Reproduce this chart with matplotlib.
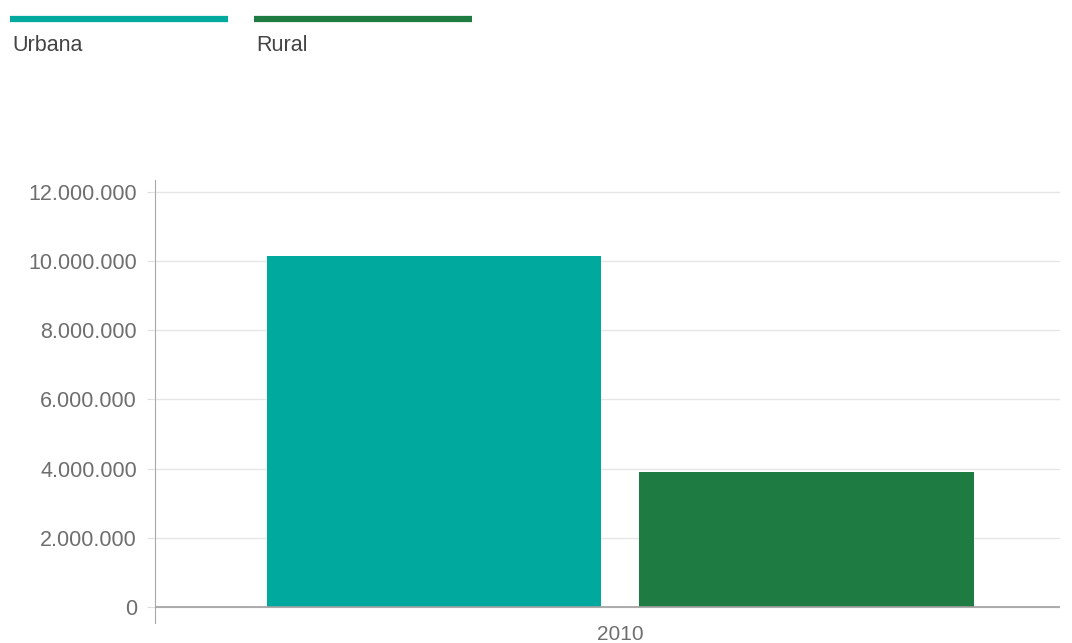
import matplotlib.pyplot as plt
from matplotlib.lines import Line2D
from matplotlib.ticker import FuncFormatter

plt.rcParams['font.family'] = ['Liberation Sans', 'DejaVu Sans']

categories = ['2010']
series = ['Urbana', 'Rural']
values = [10150000, 3910000]
colors = ['#00a99e', '#1e7b41']
yticks = [0, 2000000, 4000000, 6000000, 8000000, 10000000, 12000000]

fig = plt.figure(figsize=(10.72, 6.43), dpi=100)
ax = fig.add_axes([0.1446, 0.0311, 0.844, 0.689])

bar_w = 0.37
offsets = [-0.206, 0.206]
for name, val, col, off in zip(series, values, colors, offsets):
    ax.bar(0 + off, val, width=bar_w, color=col, zorder=3)

ax.set_xlim(-0.5144, 0.4856)
ax.set_ylim(-463000, 12340000)
ax.set_xticks([0])
ax.set_xticklabels(categories)
ax.set_yticks(yticks)
ax.yaxis.set_major_formatter(FuncFormatter(lambda v, p: f'{int(v):,}'.replace(',', '.')))

ax.grid(axis='y', color='#e6e6e6', linewidth=1, zorder=0)
ax.axhline(0, color='#a0a0a0', linewidth=1.2, zorder=4)
for s in ['top', 'right', 'bottom']:
    ax.spines[s].set_visible(False)
ax.spines['left'].set_color('#a8a8a8')
ax.tick_params(axis='y', length=6, color='#e0e0e0', pad=7, labelsize=15.5, labelcolor='#6e6e6e')
ax.tick_params(axis='x', length=0, pad=1.5, labelsize=15, labelcolor='#6e6e6e')

# legend drawn at the top
leg_x = [0.0093, 0.2369]
for name, col, x0 in zip(series, colors, leg_x):
    fig.add_artist(Line2D([x0, x0 + 0.203], [0.9705, 0.9705], color=col, linewidth=4.5,
                          solid_capstyle='butt', transform=fig.transFigure))
    fig.text(x0 + 0.002, 0.929, name, fontsize=15.5, color='#444444', va='center', ha='left')

fig.savefig('out.png', dpi=100)
